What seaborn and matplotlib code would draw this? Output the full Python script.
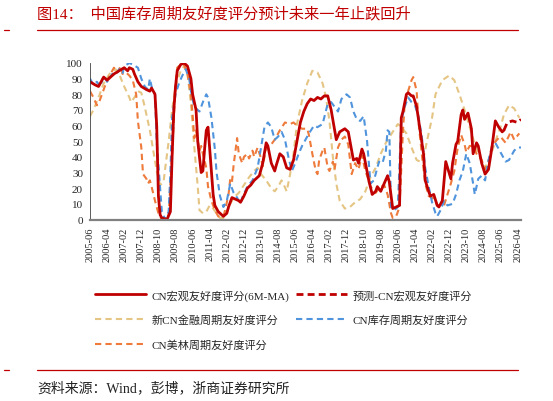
import pandas as pd
import numpy as np
import matplotlib
matplotlib.use("Agg")
import matplotlib.pyplot as plt
from matplotlib.lines import Line2D
import seaborn as sns

# Month offsets from 2005-06 and scores

# CN macro friendliness score (6M-MA), solid red
macro_m = [0, 3, 5, 8, 10, 14, 17, 20, 22, 23, 25, 26, 28, 30, 33, 35, 36, 38, 39, 40,
           41, 42, 45, 47, 48, 49, 50, 51, 53, 55, 57, 59, 60, 62, 63, 65, 66, 67, 68, 69,
           70, 72, 73, 75, 77, 78, 80, 81, 83, 85, 87, 88, 90, 92, 94, 96, 99, 101, 103, 104,
           106, 108, 109, 111, 113, 115, 117, 119, 121, 123, 125, 127, 129, 131, 133, 135, 137, 139, 141, 144,
           146, 149, 151, 154, 156, 157, 159, 160, 163, 165, 167, 168, 170, 172, 174, 175, 177, 179, 181, 182,
           183, 185, 186, 188, 189, 191, 193, 195, 196, 198, 199, 201, 203, 204, 206, 208, 211, 212, 214, 215,
           217, 218, 219, 221, 223, 224, 226, 227, 229, 231, 233, 235, 237, 239, 241, 242]
macro_v = [88, 86, 85, 91, 89, 93, 95, 97, 95, 97, 96, 93, 88, 85, 83, 82, 84, 80, 60, 15,
           3, 1, 0, 5, 40, 70, 85, 95, 99, 100, 98, 90, 80, 70, 50, 30, 31, 45, 57, 59,
           45, 16, 9, 5, 3, 2, 4, 8, 14, 13, 12, 11, 15, 20, 22, 25, 28, 36, 49, 47,
           36, 31, 35, 42, 40, 33, 32, 38, 50, 62, 69, 74, 77, 76, 78, 77, 79, 79, 70, 51,
           56, 58, 56, 38, 39, 36, 45, 42, 25, 16, 18, 21, 18, 23, 28, 24, 7, 8, 9, 65,
           69, 80, 81, 79, 79, 72, 57, 42, 25, 18, 15, 16, 9, 8, 12, 37, 26, 36, 48, 50,
           67, 70, 64, 68, 58, 42, 49, 47, 36, 29, 32, 46, 63, 59, 56, 57]

# Forecast CN macro friendliness score, dashed red
fcst_m = [242, 244, 247, 250, 252]
fcst_v = [57, 62, 63, 62, 64]

# New CN financial cycle friendliness score, dashed tan
fin_m = [0, 2, 5, 8, 12, 15, 17, 20, 23, 24, 26, 28, 30, 32, 35, 37, 39, 41, 43, 44,
         46, 48, 50, 53, 55, 57, 59, 61, 63, 64, 66, 68, 70, 72, 74, 76, 78, 80, 82, 84,
         87, 90, 93, 96, 98, 100, 103, 106, 108, 110, 112, 113, 115, 117, 119, 121, 124, 127, 130, 133,
         136, 138, 140, 142, 144, 146, 149, 152, 155, 158, 161, 164, 167, 170, 173, 177, 180, 182, 185, 188,
         191, 193, 195, 197, 200, 202, 206, 210, 213, 216, 219, 222, 225, 228, 231, 234, 237, 240, 242, 245,
         248, 251]
fin_v = [66, 70, 78, 87, 94, 96, 93, 85, 78, 75, 78, 82, 81, 72, 57, 44, 31, 22, 24, 33,
         50, 70, 85, 95, 98, 93, 74, 46, 21, 6, 4, 5, 9, 7, 4, 1, 1, 5, 10, 14,
         17, 22, 27, 31, 33, 29, 25, 20, 18, 21, 25, 23, 18, 29, 42, 61, 76, 87, 95, 94,
         87, 78, 63, 40, 23, 12, 7, 8, 11, 13, 18, 27, 33, 42, 49, 56, 61, 59, 55, 46,
         38, 37, 39, 50, 65, 80, 89, 92, 89, 80, 70, 59, 48, 40, 33, 40, 50, 59, 67, 73,
         71, 65]

# CN inventory cycle friendliness score, dashed blue
inv_m = [0, 2, 4, 6, 8, 10, 13, 15, 17, 19, 20, 23, 25, 28, 30, 32, 34, 35, 36, 38,
         39, 41, 42, 44, 46, 47, 48, 50, 52, 54, 56, 57, 58, 59, 61, 63, 64, 66, 68, 69,
         71, 73, 74, 76, 78, 79, 80, 82, 84, 86, 88, 89, 92, 95, 98, 100, 102, 104, 106, 108,
         110, 112, 114, 116, 118, 120, 122, 124, 126, 128, 131, 133, 136, 139, 141, 143, 145, 147, 150, 152,
         154, 156, 158, 160, 162, 164, 166, 167, 169, 171, 173, 174, 175, 176, 178, 180, 182, 184, 186, 188,
         190, 192, 194, 196, 198, 200, 202, 203, 205, 207, 209, 212, 214, 216, 218, 220, 222, 224, 225, 227,
         229, 231, 233, 235, 237, 240, 241, 243, 245, 248, 250, 252]
inv_v = [90, 86, 88, 85, 92, 88, 93, 92, 96, 93, 98, 100, 99, 97, 90, 85, 83, 90, 85, 80,
         50, 20, 5, 0, 5, 30, 65, 80, 87, 92, 96, 93, 90, 82, 72, 70, 69, 75, 80, 78,
         65, 45, 30, 15, 8, 10, 12, 23, 17, 14, 10, 14, 21, 25, 33, 46, 59, 62, 59, 51,
         53, 56, 51, 40, 31, 36, 42, 47, 51, 55, 60, 59, 61, 74, 75, 72, 69, 77, 80, 78,
         69, 64, 63, 66, 50, 23, 25, 29, 37, 36, 44, 57, 56, 8, 6, 8, 63, 72, 78, 75,
         73, 66, 53, 33, 21, 11, 4, 2, 6, 12, 9, 10, 16, 25, 31, 42, 36, 23, 16, 26,
         28, 25, 38, 46, 49, 43, 41, 37, 38, 44, 46, 46]

# CN-US cycle friendliness score, dashed orange
us_m = [0, 2, 4, 5, 7, 10, 12, 14, 16, 18, 19, 21, 23, 25, 27, 28, 30, 31, 33, 34,
        35, 36, 38, 40, 42, 44, 46, 48, 50, 51, 53, 55, 57, 59, 60, 61, 62, 64, 65, 66,
        68, 69, 71, 73, 75, 78, 79, 81, 82, 83, 84, 86, 87, 89, 90, 92, 93, 95, 96, 98,
        100, 101, 103, 106, 108, 111, 114, 117, 119, 121, 124, 127, 128, 130, 132, 133, 134, 136, 137, 139,
        140, 142, 143, 145, 147, 149, 151, 153, 155, 157, 159, 161, 163, 164, 167, 169, 172, 174, 176, 177,
        179, 181, 183, 184, 186, 188, 189, 191, 192, 194, 196, 198, 200, 202, 203, 207, 209, 211, 213, 215,
        217, 219, 220, 222, 224, 226, 229, 231, 233, 235, 238, 240, 243, 246, 248, 251]
us_v = [82, 78, 73, 74, 80, 89, 93, 97, 94, 98, 93, 94, 92, 89, 80, 63, 46, 29, 26, 23,
        25, 21, 12, 4, 0, 0, 3, 42, 85, 97, 99, 99, 93, 80, 67, 52, 57, 44, 47, 42,
        33, 21, 12, 6, 2, 2, 6, 16, 26, 24, 35, 52, 42, 36, 40, 42, 39, 44, 40, 46,
        39, 34, 46, 48, 51, 57, 62, 61, 62, 60, 58, 58, 54, 42, 31, 29, 38, 44, 46, 33,
        31, 37, 32, 46, 51, 53, 48, 29, 36, 32, 41, 31, 25, 21, 17, 20, 22, 16, 4, 1,
        2, 8, 57, 74, 82, 89, 91, 82, 63, 42, 23, 15, 14, 12, 9, 9, 16, 23, 31, 46,
        54, 48, 43, 47, 47, 42, 38, 32, 37, 47, 51, 53, 49, 56, 51, 55]

start = pd.Period("2005-06", freq="M")
tick_m = list(range(0, 251, 10))
tick_labels = [str(start + m) for m in tick_m]

RED = "#C00000"
TAN = "#E5C584"
BLUE = "#4F94DC"
ORANGE = "#EE7A3B"

sns.set_theme(style="white")
plt.rcParams["font.family"] = ["Liberation Serif", "Noto Sans CJK SC", "DejaVu Sans"]
plt.rcParams["axes.unicode_minus"] = False

fig = plt.figure(figsize=(5.53, 4.02), dpi=100)
ax = fig.add_axes([90 / 553, 1 - 220.5 / 402, 431 / 553, 156.5 / 402])

sns.lineplot(x=fin_m, y=fin_v, ax=ax, color=TAN, lw=1.5, linestyle=(0, (3, 2)),
             label="新CN金融周期友好度评分")
sns.lineplot(x=us_m, y=us_v, ax=ax, color=ORANGE, lw=1.5, linestyle=(0, (3, 2)),
             label="CN美林周期友好度评分")
sns.lineplot(x=inv_m, y=inv_v, ax=ax, color=BLUE, lw=1.5, linestyle=(0, (3, 2)),
             label="CN库存周期友好度评分")
sns.lineplot(x=fcst_m, y=fcst_v, ax=ax, color=RED, lw=2, linestyle=(0, (2.5, 1.5)),
             label="预测-CN宏观友好度评分")
sns.lineplot(x=macro_m, y=macro_v, ax=ax, color=RED, lw=2,
             label="CN宏观友好度评分(6M-MA)")

ax.set_xlim(0, 252)
ax.set_ylim(0, 100)
ax.set_xticks(tick_m)
ax.set_xticklabels(tick_labels, rotation=90, fontsize=7.5)
ax.set_yticks(range(0, 101, 10))
ax.set_yticklabels([str(v) for v in range(0, 101, 10)], fontsize=8)
ax.set_xlabel("")
ax.set_ylabel("")
ax.tick_params(axis="x", direction="out", length=3, width=0.8, color="#808080", pad=2)
ax.tick_params(axis="y", direction="out", length=3, width=0.6, color="#404040", pad=2)
for side in ["top", "right"]:
    ax.spines[side].set_visible(False)
ax.spines["bottom"].set_color("#808080")
ax.spines["bottom"].set_linewidth(1.6)
ax.spines["left"].set_color("#404040")
ax.spines["left"].set_linewidth(0.6)

# legend: two columns below the chart
h, l = ax.get_legend_handles_labels()
lut = dict(zip(l, h))
order = ["CN宏观友好度评分(6M-MA)", "新CN金融周期友好度评分", "CN美林周期友好度评分",
         "预测-CN宏观友好度评分", "CN库存周期友好度评分"]
ax.legend_.remove()
fig.legend([lut[k] for k in order], order, ncol=2, frameon=False,
           loc="upper left", bbox_to_anchor=(85 / 553, 1 - 280 / 402),
           fontsize=8, handlelength=4.6, labelspacing=1.25, columnspacing=0.6,
           handletextpad=0.5)

# title, rules and source
fig.text(37 / 553, 1 - 14 / 402, "图14：  中国库存周期友好度评分预计未来一年止跌回升",
         color=RED, fontsize=11, va="center", ha="left")
for yy in [31, 371]:
    fig.add_artist(Line2D([37 / 553, 518 / 553], [1 - yy / 402] * 2, color=RED, lw=0.9))
    fig.add_artist(Line2D([4 / 553, 9 / 553], [1 - yy / 402] * 2, color=RED, lw=0.9))
fig.text(37 / 553, 1 - 388 / 402, "资料来源：Wind，彭博，浙商证券研究所",
         color="#222222", fontsize=10, va="center", ha="left")

fig.savefig("out.png", dpi=100)
